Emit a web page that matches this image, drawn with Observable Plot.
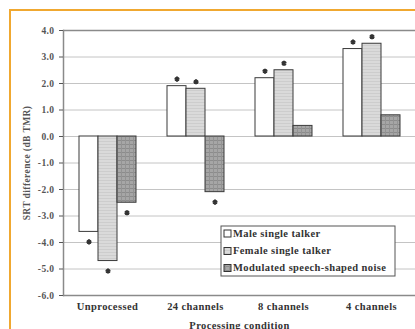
<!DOCTYPE html>
<html>
<head>
<meta charset="utf-8">
<script src="https://cdn.jsdelivr.net/npm/d3@7"></script>
<script src="https://cdn.jsdelivr.net/npm/@observablehq/plot@0.6"></script>
<style>
  html, body { margin: 0; padding: 0; background: #fff; }
  #chart svg { display: block; }
</style>
</head>
<body>
<div id="chart"></div>
<script>
// Processing conditions along the x axis
const categories = ["Unprocessed", "24 channels", "8 channels", "4 channels"];
// Masker types (one bar each per condition)
const series = ["Male single talker", "Female single talker", "Modulated speech-shaped noise"];

// SRT difference (dB TMR) per condition
const maleValues   = [-3.6, 1.9, 2.2, 3.3];
const femaleValues = [-4.7, 1.8, 2.5, 3.5];
const noiseValues  = [-2.5, -2.1, 0.4, 0.8];

// Significance markers (asterisks) per condition
const maleSig   = [true, true, true, true];
const femaleSig = [true, true, true, true];
const noiseSig  = [true, true, false, false];

const yTicks = [-6, -5, -4, -3, -2, -1, 0, 1, 2, 3, 4];

const seriesValues = [maleValues, femaleValues, noiseValues];
const seriesSig = [maleSig, femaleSig, noiseSig];
const fills = ["#ffffff", "url(#hatch-female)", "url(#hatch-noise)"];

const rows = categories.flatMap((category, i) =>
  series.map((s, j) => ({category, series: s, value: seriesValues[j][i], sig: seriesSig[j][i]}))
);

const font = "'Liberation Serif', 'DejaVu Serif', serif";

const svg = Plot.plot({
  width: 415,
  height: 329,
  marginLeft: 62,
  marginRight: 0,
  marginTop: 30,
  marginBottom: 34,
  style: {fontFamily: font, fontWeight: "bold", background: "transparent", letterSpacing: "0.4px"},
  fx: {domain: categories, padding: 0},
  x: {domain: series, paddingInner: 0, paddingOuter: 0.76, axis: null},
  y: {domain: [-6, 4]},
  color: {type: "ordinal", domain: series, range: fills},
  marks: [
    Plot.ruleY(yTicks, {stroke: "#c4c4c4", strokeWidth: 1}),
    Plot.ruleY([yTicks[0], yTicks[yTicks.length - 1]], {stroke: "#8a8a8a", strokeWidth: 1.5}),
    Plot.frame({anchor: "left", facetAnchor: "left", stroke: "#8a8a8a", strokeWidth: 1.5}),
    Plot.barY(rows, {fx: "category", x: "series", y: "value", fill: "series", stroke: "#3a3a3a", strokeWidth: 1}),
    // significance asterisks: above positive bars, below negative bars
    Plot.dot(rows.filter(d => d.sig && d.value > 0), {
      fx: "category", x: "series", y: "value", symbol: "asterisk",
      r: 2.4, dy: -7, stroke: "#333", strokeWidth: 2
    }),
    Plot.dot(rows.filter(d => d.sig && d.value < 0), {
      fx: "category", x: "series", y: "value", symbol: "asterisk",
      r: 2.4, dy: 10, stroke: "#333", strokeWidth: 2
    }),
    Plot.axisY({
      ticks: yTicks, tickFormat: d => d.toFixed(1), tickSize: 4, tickPadding: 5,
      fontSize: 9.5, color: "#555",
      label: "SRT difference (dB TMR)", labelAnchor: "center", labelArrow: "none", labelOffset: 40
    }),
    Plot.axisFx({
      anchor: "bottom", tickSize: 0, tickPadding: 7, fontSize: 10.5, color: "#333",
      label: "Processing condition", labelAnchor: "center", labelArrow: "none", labelOffset: 33
    })
  ]
});

const root = d3.select(svg);

// Hatch patterns for the grey bars
const defs = root.insert("defs", ":first-child");
const pf = defs.append("pattern").attr("id", "hatch-female")
  .attr("patternUnits", "userSpaceOnUse").attr("width", 3).attr("height", 3);
pf.append("rect").attr("width", 3).attr("height", 3).attr("fill", "#dadada");
pf.append("rect").attr("width", 3).attr("height", 1).attr("fill", "#cdcdcd");

const pn = defs.append("pattern").attr("id", "hatch-noise")
  .attr("patternUnits", "userSpaceOnUse").attr("width", 4).attr("height", 4);
pn.append("rect").attr("width", 4).attr("height", 4).attr("fill", "#a6a6a6");
pn.append("rect").attr("width", 4).attr("height", 1).attr("fill", "#8c8c8c");
pn.append("rect").attr("width", 1).attr("height", 4).attr("fill", "#939393");

// Legend box inside the plot area
const legend = root.append("g").attr("transform", "translate(221,226)")
  .attr("text-anchor", "start")
  .style("font-family", font).style("font-weight", "bold");
legend.append("rect").attr("width", 174).attr("height", 50)
  .attr("fill", "#fff").attr("stroke", "#555").attr("stroke-width", 1);
const rowY = [7.5, 25, 42];
series.forEach((s, i) => {
  legend.append("rect").attr("x", 3).attr("y", rowY[i] - 3.5).attr("width", 7).attr("height", 7)
    .attr("fill", fills[i]).attr("stroke", "#333").attr("stroke-width", 1);
  legend.append("text").attr("x", 12).attr("y", rowY[i]).attr("dy", "0.33em")
    .attr("font-size", 10.5).attr("fill", "#333").text(s);
});

// Page border
root.append("path").attr("d", "M10,329V10H415")
  .attr("fill", "none").attr("stroke", "#f0a830").attr("stroke-width", 2);

document.getElementById("chart").appendChild(svg);
</script>
</body>
</html>
